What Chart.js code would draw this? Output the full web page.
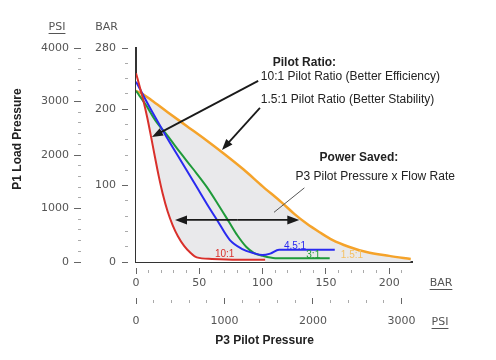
<!DOCTYPE html>
<html>
<head>
<meta charset="utf-8">
<script src="https://cdn.jsdelivr.net/npm/chart.js@4.4.0/dist/chart.umd.min.js"></script>
<style>
  html, body { margin: 0; padding: 0; background: #fff; }
  #wrap { width: 496px; height: 360px; }
</style>
</head>
<body>
<div id="wrap"><canvas id="grafico"></canvas></div>
<script>
// curvas: x = P3 pilot pressure (bar), y = P1 load pressure (bar)
var x_10 = [0, 3, 6, 9, 12, 15, 18, 21, 25, 29, 33, 38, 43, 48, 60, 80, 102];
var y_10 = [247, 229, 210, 188, 163, 137, 112, 90, 66, 48, 34, 21, 12, 6, 4, 3, 3];

var x_45 = [0, 8, 16, 24, 32, 40, 48, 56, 64, 74, 84, 92, 100, 106, 113, 130, 157];
var y_45 = [236, 211, 187, 164, 142, 120, 98, 76, 55, 29, 17, 12, 9, 11, 16, 16, 16];

var x_3 = [0, 8, 15, 25, 35, 45, 56, 65, 74, 80, 87, 93, 100, 110, 130, 153];
var y_3 = [224, 205, 186, 165, 143, 122, 98, 75, 51, 35, 20, 12, 8, 5, 5, 5];

var x_15 = [0, 5, 12, 25, 40, 55, 70, 85, 100, 115, 125, 135, 145, 155, 168, 182, 200, 217];
var y_15 = [224, 220, 212, 196, 178, 160, 141, 121, 99, 78, 63, 50, 39, 29, 20, 13, 8, 4];

// rotulos dos eixos
var rotY_bar = [0, 100, 200, 280];
var rotY_psi = [0, 1000, 2000, 3000, 4000];
var rotX_bar = [0, 50, 100, 150, 200];
var rotX_psi = [0, 1000, 2000, 3000];

function pontos(xs, ys) {
    var p = [];
    for (var i = 0; i < xs.length; i++) {
        p.push({ x: xs[i], y: ys[i] });
    }
    return p;
}

// eixo com marcas maiores nos rotulos e marcas menores no resto
function eixo(pos, peso, min, max, passo, rotulos, largura, tl, pad, traco) {
    return {
        type: 'linear', position: pos, weight: peso, min: min, max: max,
        border: { display: false },
        grid: {
            drawOnChartArea: false, tickLength: tl, tickWidth: 1,
            tickColor: function (c) { return rotulos.indexOf(c.tick.value) >= 0 ? '#666' : '#aaa'; },
            tickBorderDash: function (c) { return rotulos.indexOf(c.tick.value) >= 0 ? [] : traco; }
        },
        ticks: {
            stepSize: passo, autoSkip: false, maxRotation: 0, includeBounds: false,
            padding: pad, color: '#555', font: { family: 'DejaVu Sans', size: 11 },
            callback: function (v) { return rotulos.indexOf(v) >= 0 ? String(v) : ''; }
        },
        afterFit: function (s) {
            if (pos === 'left') s.width = largura; else s.height = largura;
        }
    };
}

function moldura(pos, peso, max, largura) {
    return {
        type: 'linear', position: pos, weight: peso, min: 0, max: max,
        border: { display: true, color: '#333', width: 2 },
        grid: { drawOnChartArea: false, drawTicks: false },
        ticks: { display: false },
        afterFit: function (s) {
            if (pos === 'left') s.width = largura; else s.height = largura;
        }
    };
}

function seta(c, x1, y1, x2, y2, ponta) {
    var ang = Math.atan2(y2 - y1, x2 - x1);
    var cs = Math.cos(ang), sn = Math.sin(ang);
    c.beginPath();
    c.moveTo(x1, y1);
    c.lineTo(x2 - cs * ponta * 0.8, y2 - sn * ponta * 0.8);
    c.stroke();
    c.beginPath();
    c.moveTo(x2, y2);
    c.lineTo(x2 - ponta * cs + ponta * 0.38 * sn, y2 - ponta * sn - ponta * 0.38 * cs);
    c.lineTo(x2 - ponta * cs - ponta * 0.38 * sn, y2 - ponta * sn + ponta * 0.38 * cs);
    c.closePath();
    c.fill();
}

function texto(c, t, x, y, sub) {
    c.fillText(t, x, y);
    if (sub) {
        var w = c.measureText(t).width;
        var x0 = c.textAlign === 'center' ? x - w / 2 : x;
        c.fillRect(x0, y + 6, w, 1);
    }
}

var notas = {
    id: 'notas',
    afterDatasetsDraw: function (chart) {
        var c = chart.ctx, a = chart.chartArea;
        var sx = chart.scales.xb, sy = chart.scales.yb;
        var px = function (v) { return sx.getPixelForValue(v); };
        var py = function (v) { return sy.getPixelForValue(v); };
        c.save();

        // setas
        c.strokeStyle = '#1a1a1a'; c.fillStyle = '#1a1a1a'; c.lineWidth = 1.8;
        seta(c, px(96.5), py(237), px(12.6), py(163.6), 11);
        seta(c, px(97.9), py(201.6), px(67.9), py(146.6), 11);
        seta(c, px(80), py(55), px(30.8), py(55), 12);
        seta(c, px(80), py(55), px(129), py(55), 12);
        c.strokeStyle = '#555'; c.lineWidth = 1;
        c.beginPath(); c.moveTo(px(133), py(97)); c.lineTo(px(109), py(65)); c.stroke();

        // textos das notas
        c.fillStyle = '#222'; c.textAlign = 'left'; c.textBaseline = 'middle';
        c.font = 'bold 12px "Liberation Sans", Arial';
        texto(c, 'Pilot Ratio:', px(108), py(260.5));
        texto(c, 'Power Saved:', px(145), py(136));
        c.font = '12px "Liberation Sans", Arial';
        texto(c, '10:1 Pilot Ratio (Better Efficiency)', px(98.6), py(242));
        texto(c, '1.5:1 Pilot Ratio (Better Stability)', px(98.6), py(212));
        texto(c, 'P3 Pilot Pressure x Flow Rate', px(126), py(111));

        // nomes das curvas
        c.textAlign = 'center'; c.font = '10px "Liberation Sans", Arial';
        c.fillStyle = '#d9302b'; texto(c, '10:1', px(70), py(10.5));
        c.fillStyle = '#2a2af0'; texto(c, '4.5:1', px(125.6), py(21));
        c.fillStyle = '#1f9a3a'; texto(c, '3:1', px(140), py(9));
        c.fillStyle = '#f5c062'; texto(c, '1.5:1', px(170.6), py(9));

        // unidades
        c.fillStyle = '#555'; c.font = '11px "DejaVu Sans"';
        texto(c, 'PSI', chart.scales.yp.right - 24, a.top - 21, true);
        texto(c, 'BAR', chart.scales.yb.right - 21.5, a.top - 21, false);
        texto(c, 'BAR', a.right + 29, chart.scales.xb.top + 15, true);
        texto(c, 'PSI', a.right + 28, chart.scales.xp.top + 24, true);

        // titulos
        c.fillStyle = '#222'; c.font = 'bold 12px "Liberation Sans", Arial';
        texto(c, 'P3 Pilot Pressure', 264.5, 341);
        c.translate(18, 139); c.rotate(-Math.PI / 2);
        texto(c, 'P1 Load Pressure', 0, 0);
        c.restore();
    }
};

var ctx = document.getElementById('grafico');
var grafico = new Chart(ctx, {
    type: 'line',
    data: {
        datasets: [{
            label: '10:1',
            data: pontos(x_10, y_10),
            borderColor: '#d9302b', borderWidth: 2, pointRadius: 0,
            fill: 'origin', backgroundColor: '#ffffff',
            cubicInterpolationMode: 'monotone', xAxisID: 'xb', yAxisID: 'yb'
        }, {
            label: '4.5:1',
            data: pontos(x_45, y_45),
            borderColor: '#2a2af0', borderWidth: 2, pointRadius: 0, fill: false,
            cubicInterpolationMode: 'monotone', xAxisID: 'xb', yAxisID: 'yb'
        }, {
            label: '3:1',
            data: pontos(x_3, y_3),
            borderColor: '#1f9a3a', borderWidth: 2, pointRadius: 0, fill: false,
            cubicInterpolationMode: 'monotone', xAxisID: 'xb', yAxisID: 'yb'
        }, {
            label: '1.5:1',
            data: pontos(x_15, y_15),
            borderColor: '#f5a32a', borderWidth: 2.5, pointRadius: 0,
            fill: 'origin', backgroundColor: '#e9e9eb',
            cubicInterpolationMode: 'monotone', xAxisID: 'xb', yAxisID: 'yb'
        }]
    },
    options: {
        responsive: true, maintainAspectRatio: false, animation: false,
        layout: { padding: { top: 48, right: 84, bottom: 0, left: 0 } },
        plugins: {
            legend: { display: false }, tooltip: { enabled: false },
            filler: { drawTime: 'beforeDatasetsDraw' }
        },
        scales: {
            yf: moldura('left', 0, 280, 8),
            yb: eixo('left', 1, 0, 280, 20, rotY_bar, 47, 6, 6, [0, 3, 3, 50]),
            yp: eixo('left', 2, 0, 4000, 200, rotY_psi, 81, 7, 5, [0, 4, 3, 50]),
            xf: moldura('bottom', 0, 218, 6),
            xb: eixo('bottom', 1, 0, 218, 10, rotX_bar, 30, 6, 3, [0, 2, 3, 50]),
            xp: eixo('bottom', 2, 0, 3120, 200, rotX_psi, 62, 6, 11, [0, 2, 3, 50])
        }
    },
    plugins: [notas]
});
</script>
</body>
</html>
